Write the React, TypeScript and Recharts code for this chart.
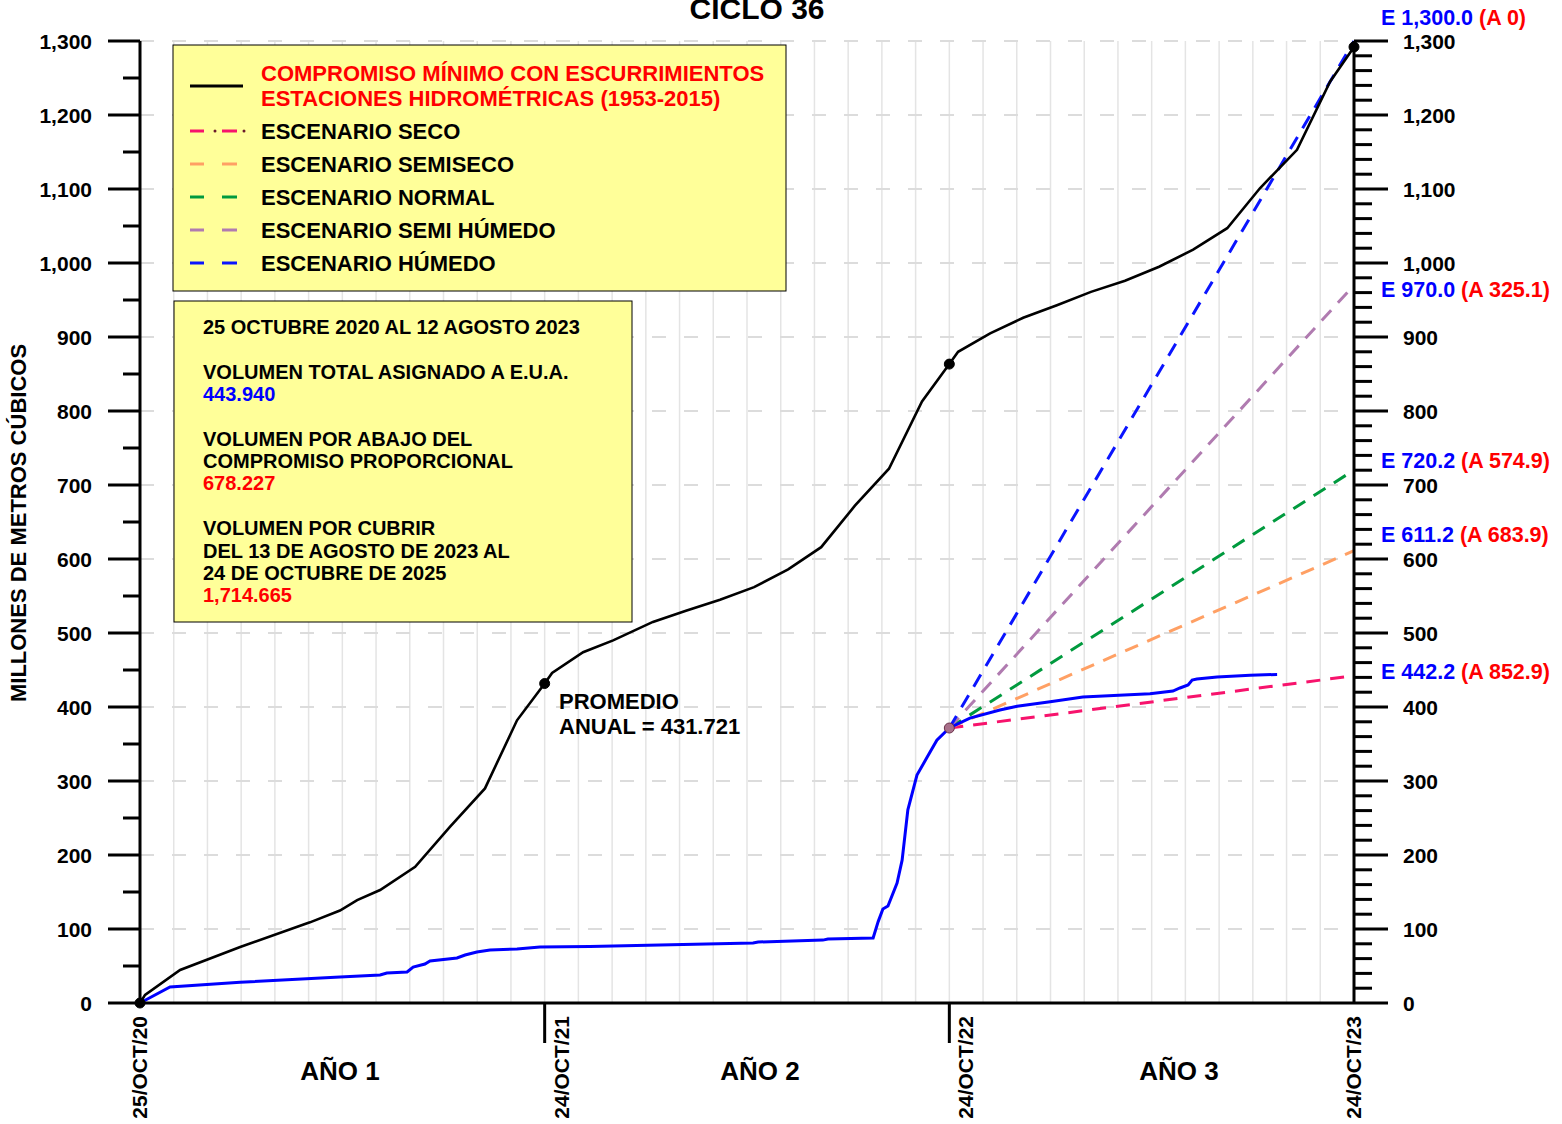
import React from 'react';
import { ComposedChart, Line, XAxis, YAxis, CartesianGrid, ReferenceDot } from 'recharts';

// x = meses transcurridos desde el 25/OCT/20, y = millones de m3 acumulados
const compromisoMes = [0, 0.15, 1.19, 2.97, 5.04, 5.93, 6.44, 7.12, 8.16, 9.19, 10.23, 11.18, 12, 12.22, 13.14, 14.03, 15.21, 16.19, 17.2, 18.21, 19.22, 20.2, 21.2, 22.21, 23.19, 24, 24.26, 25.21, 26.19, 27.19, 28.2, 29.21, 30.22, 31.23, 32.24, 33.21, 34.31, 35.29, 36];
const compromisoVol = [0, 11, 44.6, 75.7, 109, 125, 139, 152.7, 184, 238, 290, 382, 431.7, 446, 474, 490, 515, 530, 545, 562, 586, 616, 672, 722, 813, 863.4, 880, 905, 926, 943, 961, 976, 995, 1018, 1047, 1101, 1153, 1245, 1292];

const entregadoMes = [0, 0.89, 2.97, 5.93, 7.12, 7.32, 7.92, 8.1, 8.45, 8.6, 9.4, 9.64, 9.99, 10.38, 11.18, 11.86, 13.34, 18.18, 18.33, 20.25, 20.4, 21.74, 21.89, 22.03, 22.18, 22.45, 22.6, 22.77, 23.04, 23.34, 23.63, 24, 24.61, 25.5, 26.01, 26.99, 27.96, 29.95, 30.63, 30.84, 31.08, 31.2, 31.34, 31.94, 32.92, 33.72];
const entregadoVol = [0, 21.6, 28, 35, 37.8, 40.5, 42, 48.6, 52.7, 56.8, 60.8, 64.9, 69, 71.6, 73, 75.7, 76.5, 81, 82.4, 85, 86.5, 87.8, 110, 127, 131, 162, 193, 261, 308, 332, 355, 371.6, 385, 396, 401, 407, 413.5, 418, 421.6, 425.7, 429.7, 436.5, 437.8, 440.5, 443, 443.94];

// marcas de promedio anual sobre la curva de compromiso
const anualMes = [0, 12, 24, 36];
const anualVol = [0, 431.7, 863.4, 1292];

// escenarios: arrancan el 24/OCT/22 y terminan el 24/OCT/23
const escInicioMes = 24;
const escInicioVol = 371.6;
const escFinMes = 36;
const escNombres = ['ESCENARIO SECO', 'ESCENARIO SEMISECO', 'ESCENARIO NORMAL', 'ESCENARIO SEMI HÚMEDO', 'ESCENARIO HÚMEDO'];
const escFinal = [442.2, 611.2, 720.2, 970.0, 1300.0];
const escFaltante = [852.9, 683.9, 574.9, 325.1, 0];
const escColores = ['#f7136c', '#ffa064', '#009a3e', '#b07bb0', '#0a14ff'];
const escEtiquetaDy = [-4, -16, -10, 4, -24];

const fechaMes = [0, 12, 24, 36];
const fechaTxt = ['25/OCT/20', '24/OCT/21', '24/OCT/22', '24/OCT/23'];
const fechaDx = [7, 24, 24, 7];

const ticksIzq = Array.from({ length: 27 }, (_, i) => i * 50);
const ticksDer = Array.from({ length: 66 }, (_, i) => i * 20);
const gridY = Array.from({ length: 13 }, (_, i) => (i + 1) * 100);
const gridX = Array.from({ length: 35 }, (_, i) => i + 1);

const FONT = '"Liberation Sans", Arial, Helvetica, sans-serif';
const miles = (v: number) => v.toLocaleString('en-US');

const compromisoData = compromisoMes.map((m, i) => ({ m, v: compromisoVol[i] }));
const entregadoData = entregadoMes.map((m, i) => ({ m, v: entregadoVol[i] }));

function LeftTick(props: any) {
  const { x, y, payload } = props;
  const v = payload.value;
  const major = v % 100 === 0;
  return (
    <g>
      <line x1={x - (major ? 32 : 17)} x2={x} y1={y} y2={y} stroke="#000" strokeWidth={3} />
      {major && (
        <text x={x - 48} y={y + 7.5} textAnchor="end" fontFamily={FONT} fontWeight="bold" fontSize={21} fill="#000">
          {miles(v)}
        </text>
      )}
    </g>
  );
}

function RightTick(props: any) {
  const { x, y, payload } = props;
  const v = payload.value;
  const major = v % 100 === 0;
  return (
    <g>
      <line x1={x} x2={x + (major ? 34 : 18)} y1={y} y2={y} stroke="#000" strokeWidth={3} />
      {major && (
        <text x={x + 49} y={y + 7.5} textAnchor="start" fontFamily={FONT} fontWeight="bold" fontSize={21} fill="#000">
          {miles(v)}
        </text>
      )}
    </g>
  );
}

function DateTick(props: any) {
  const { x, y, payload } = props;
  const i = fechaMes.indexOf(payload.value);
  if (i < 0) return <g />;
  const conMarca = i === 1 || i === 2;
  return (
    <g>
      {conMarca && <line x1={x} x2={x} y1={y} y2={y + 40} stroke="#000" strokeWidth={3} />}
      <text
        transform={`translate(${x + fechaDx[i]},${y + 13}) rotate(-90)`}
        textAnchor="end"
        fontFamily={FONT}
        fontWeight="bold"
        fontSize={21}
        fill="#000"
      >
        {fechaTxt[i]}
      </text>
    </g>
  );
}

function EtiquetaEsc(i: number) {
  return (props: any) => {
    const { cx, cy } = props;
    const e = escFinal[i].toLocaleString('en-US', { minimumFractionDigits: 1, maximumFractionDigits: 1 });
    const a = escFaltante[i] === 0 ? '0' : escFaltante[i].toFixed(1);
    return (
      <text x={cx + 27} y={cy + escEtiquetaDy[i] + 7.5} fontFamily={FONT} fontWeight="bold" fontSize={21.5}>
        <tspan fill="#0000ff">{`E ${e}`}</tspan>
        <tspan fill="#ff0000">{` (A ${a})`}</tspan>
      </text>
    );
  };
}

function Overlay() {
  const txt = { fontFamily: FONT, fontWeight: 'bold' as const };
  const filasLeyenda = [131, 164, 197, 230, 263];
  return (
    <svg width={1562} height={1124} style={{ position: 'absolute', left: 0, top: 0, pointerEvents: 'none' }}>
      <text x={757} y={19} textAnchor="middle" {...txt} fontSize={30} fill="#000">CICLO 36</text>
      <text transform="translate(26,523) rotate(-90)" textAnchor="middle" {...txt} fontSize={22} fill="#000">
        MILLONES DE METROS CÚBICOS
      </text>
      {['AÑO 1', 'AÑO 2', 'AÑO 3'].map((t, i) => (
        <text key={t} x={[340, 760, 1179][i]} y={1080} textAnchor="middle" {...txt} fontSize={26} fill="#000">{t}</text>
      ))}
      <text x={559} y={709} {...txt} fontSize={22} fill="#000">PROMEDIO</text>
      <text x={559} y={734} {...txt} fontSize={22} fill="#000">ANUAL = 431.721</text>

      <rect x={173} y={45} width={613} height={246} fill="#ffff99" stroke="#000" strokeWidth={1} />
      <line x1={190} x2={243} y1={86} y2={86} stroke="#000" strokeWidth={3} />
      <text x={261} y={81} {...txt} fontSize={22} fill="#ff0000">COMPROMISO MÍNIMO CON ESCURRIMIENTOS</text>
      <text x={261} y={106} {...txt} fontSize={22} fill="#ff0000">ESTACIONES HIDROMÉTRICAS (1953-2015)</text>
      {escNombres.map((n, i) => (
        <g key={n}>
          <line x1={190} x2={204} y1={filasLeyenda[i]} y2={filasLeyenda[i]} stroke={escColores[i]} strokeWidth={3} />
          <line x1={222} x2={237} y1={filasLeyenda[i]} y2={filasLeyenda[i]} stroke={escColores[i]} strokeWidth={3} />
          {i === 0 && <circle cx={215} cy={filasLeyenda[i]} r={1.5} fill="#6a1a2a" />}
          {i === 0 && <circle cx={244} cy={filasLeyenda[i]} r={1.5} fill="#6a1a2a" />}
          <text x={261} y={filasLeyenda[i] + 8} {...txt} fontSize={22} fill="#000">{n}</text>
        </g>
      ))}

      <rect x={174} y={301} width={458} height={321} fill="#ffff99" stroke="#000" strokeWidth={1} />
      {[
        ['25 OCTUBRE 2020 AL 12 AGOSTO 2023', 334, '#000'],
        ['VOLUMEN TOTAL ASIGNADO A E.U.A.', 379, '#000'],
        ['443.940', 401, '#0000ff'],
        ['VOLUMEN POR ABAJO DEL', 446, '#000'],
        ['COMPROMISO PROPORCIONAL', 468, '#000'],
        ['678.227', 490, '#ff0000'],
        ['VOLUMEN POR CUBRIR', 535, '#000'],
        ['DEL 13 DE AGOSTO DE 2023 AL', 558, '#000'],
        ['24 DE OCTUBRE DE 2025', 580, '#000'],
        ['1,714.665', 602, '#ff0000'],
      ].map(([t, y, c]) => (
        <text key={t as string} x={203} y={y as number} {...txt} fontSize={20} fill={c as string}>{t}</text>
      ))}
    </svg>
  );
}

export default function App() {
  return (
    <div style={{ position: 'absolute', left: 0, top: 0, width: 1562, height: 1124, background: '#fff', overflow: 'hidden' }}>
      <ComposedChart width={1562} height={1124} margin={{ top: 41, right: 58, bottom: 61, left: 80 }}>
        <CartesianGrid yAxisId="left" horizontal={false} verticalValues={gridX} stroke="#e4e4e4" strokeWidth={1.5} />
        <CartesianGrid yAxisId="left" vertical={false} horizontalValues={gridY} stroke="#dcdcdc" strokeWidth={2} strokeDasharray="14 18" />
        <XAxis
          dataKey="m"
          type="number"
          domain={[0, 36]}
          ticks={fechaMes}
          interval={0}
          height={60}
          tickSize={0}
          tickMargin={0}
          tickLine={false}
          axisLine={{ stroke: '#000', strokeWidth: 3 }}
          tick={<DateTick />}
        />
        <YAxis
          yAxisId="left"
          type="number"
          domain={[0, 1300]}
          ticks={ticksIzq}
          interval={0}
          width={60}
          tickSize={0}
          tickMargin={0}
          tickLine={false}
          axisLine={{ stroke: '#000', strokeWidth: 3 }}
          tick={<LeftTick />}
        />
        <YAxis
          yAxisId="right"
          orientation="right"
          type="number"
          domain={[0, 1300]}
          ticks={ticksDer}
          interval={0}
          width={150}
          tickSize={0}
          tickMargin={0}
          tickLine={false}
          axisLine={{ stroke: '#000', strokeWidth: 3 }}
          tick={<RightTick />}
        />
        {escNombres.map((n, i) => (
          <Line
            key={n}
            yAxisId="right"
            data={[{ m: escInicioMes, v: escInicioVol }, { m: escFinMes, v: escFinal[i] }]}
            dataKey="v"
            type="linear"
            stroke={escColores[i]}
            strokeWidth={3}
            strokeDasharray="14 10"
            dot={false}
            activeDot={false}
            isAnimationActive={false}
          />
        ))}
        <Line
          yAxisId="left"
          data={compromisoData}
          dataKey="v"
          type="linear"
          stroke="#000"
          strokeWidth={2.6}
          dot={false}
          activeDot={false}
          isAnimationActive={false}
        />
        <Line
          yAxisId="left"
          data={entregadoData}
          dataKey="v"
          type="linear"
          stroke="#0000ff"
          strokeWidth={3}
          dot={false}
          activeDot={false}
          isAnimationActive={false}
        />
        {anualMes.map((m, i) => (
          <ReferenceDot key={m} yAxisId="left" x={m} y={anualVol[i]} r={5} fill="#000" stroke="#000" />
        ))}
        <ReferenceDot yAxisId="left" x={escInicioMes} y={escInicioVol} r={5} fill="#a8708a" stroke="#6a3048" strokeWidth={1} />
        {escNombres.map((n, i) => (
          <ReferenceDot key={n} yAxisId="right" x={escFinMes} y={escFinal[i]} r={1} shape={EtiquetaEsc(i)} />
        ))}
      </ComposedChart>
      <Overlay />
    </div>
  );
}
